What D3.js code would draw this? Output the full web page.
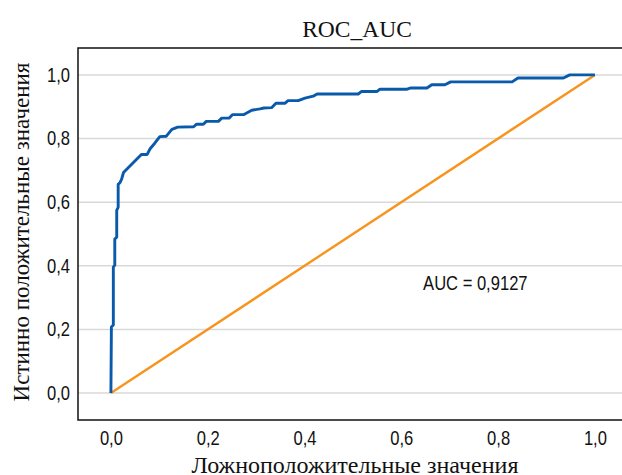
<!DOCTYPE html>
<html>
<head>
<meta charset="utf-8">
<script src="https://cdn.jsdelivr.net/npm/d3@7"></script>
<style>
  body { margin: 0; background: #fff; }
  .tick-label { font-family: "Liberation Sans", Arial, sans-serif; font-size: 19.5px; fill: #111; }
  .serif { font-family: "Liberation Serif", "Times New Roman", serif; fill: #111; }
</style>
</head>
<body>
<svg id="chart"></svg>
<script>
// ROC curve
let fpr = [0, 0.001, 0.005, 0.005, 0.008, 0.008, 0.012, 0.012, 0.015, 0.015, 0.019, 0.022, 0.026,
  0.063, 0.075, 0.081, 0.091, 0.101, 0.114, 0.126, 0.138, 0.171, 0.177, 0.191, 0.197, 0.222,
  0.229, 0.244, 0.251, 0.274, 0.291, 0.308, 0.316, 0.332, 0.341, 0.360, 0.366, 0.387, 0.401,
  0.418, 0.426, 0.511, 0.518, 0.550, 0.556, 0.612, 0.620, 0.653, 0.663, 0.690, 0.702, 0.829,
  0.841, 0.935, 0.948, 1.0];
let tpr = [0, 0.208, 0.214, 0.396, 0.402, 0.484, 0.490, 0.574, 0.584, 0.656, 0.662, 0.672, 0.693,
  0.750, 0.750, 0.768, 0.786, 0.806, 0.807, 0.829, 0.836, 0.837, 0.845, 0.845, 0.854, 0.854,
  0.864, 0.864, 0.875, 0.875, 0.889, 0.893, 0.896, 0.897, 0.911, 0.911, 0.919, 0.919, 0.927,
  0.933, 0.940, 0.940, 0.948, 0.948, 0.955, 0.955, 0.959, 0.959, 0.969, 0.969, 0.978, 0.978,
  0.990, 0.990, 1.0, 1.0];
let diagonal = [0, 1];
let tickValues = [0, 0.2, 0.4, 0.6, 0.8, 1.0];
let aucText = "AUC = 0,9127";

let width = 622, height = 475;
let plot = { left: 78, top: 48, right: 622, bottom: 420 };
let narrow = 0.85; // squeeze for the narrow sans labels

let svg = d3.select("#chart").attr("width", width).attr("height", height);

let x = d3.scaleLinear().domain([-0.068, 1.056]).range([plot.left, plot.right]);
let y = d3.scaleLinear().domain([-0.0845, 1.0845]).range([plot.bottom, plot.top]);

let fmt = d => d3.format(".1f")(d).replace(".", ",");

// gridlines
svg.append("g").selectAll("line").data(tickValues).enter().append("line")
  .attr("x1", plot.left).attr("x2", plot.right)
  .attr("y1", d => y(d)).attr("y2", d => y(d))
  .attr("stroke", "#d9d9d9").attr("stroke-width", 1.5);

// axes with no tick marks
let yAxis = svg.append("g").attr("transform", "translate(" + (plot.left - 8) + ",0)")
  .call(d3.axisLeft(y).tickValues(tickValues).tickFormat(fmt).tickSize(0).tickPadding(0));
let xAxis = svg.append("g").attr("transform", "translate(0," + plot.bottom + ")")
  .call(d3.axisBottom(x).tickValues(tickValues).tickFormat(fmt).tickSize(0).tickPadding(11));
[xAxis, yAxis].forEach(a => {
  a.select(".domain").remove();
  a.selectAll("text").attr("class", "tick-label").attr("fill", "#111")
    .attr("transform", "scale(" + narrow + ",1)");
});

// frame: left, top, bottom
svg.append("path")
  .attr("d", "M" + plot.right + "," + plot.top + "H" + plot.left + "V" + plot.bottom + "H" + plot.right)
  .attr("fill", "none").attr("stroke", "#111").attr("stroke-width", 1.5);

let line = d3.line().x(d => x(d[0])).y(d => y(d[1]));

svg.append("path")
  .datum(diagonal.map(d => [d, d]))
  .attr("d", line)
  .attr("fill", "none").attr("stroke", "#f7941d").attr("stroke-width", 2.4);

svg.append("path")
  .datum(fpr.map((f, i) => [f, tpr[i]]))
  .attr("d", line)
  .attr("fill", "none").attr("stroke", "#0a5aac").attr("stroke-width", 2.9)
  .attr("stroke-linejoin", "round");

svg.append("text").attr("class", "tick-label")
  .attr("transform", "translate(" + x(0.645) + "," + y(0.325) + ") scale(" + narrow + ",1)")
  .text(aucText);

svg.append("text").attr("class", "serif")
  .attr("x", 357).attr("y", 37).attr("text-anchor", "middle")
  .style("font-size", "23.5px").text("ROC_AUC");

svg.append("text").attr("class", "serif")
  .attr("x", 355).attr("y", 473).attr("text-anchor", "middle")
  .style("font-size", "24px").text("Ложноположительные значения");

svg.append("text").attr("class", "serif")
  .attr("transform", "translate(29,232) rotate(-90)").attr("text-anchor", "middle")
  .style("font-size", "23px").text("Истинно положительные значения");
</script>
</body>
</html>
